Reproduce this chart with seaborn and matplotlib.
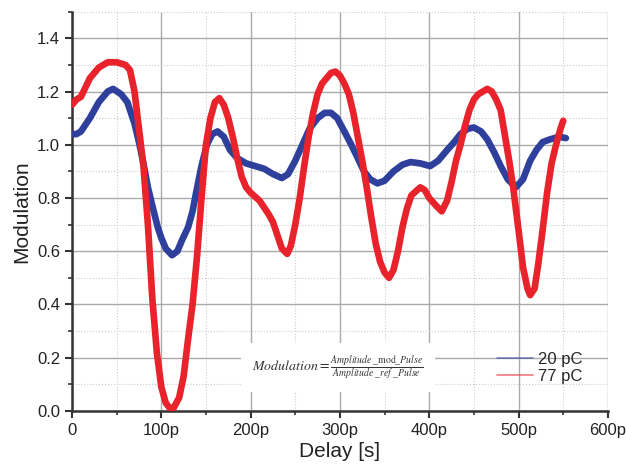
import numpy as np
import pandas as pd
import seaborn as sns
import matplotlib.pyplot as plt
from matplotlib.lines import Line2D
from matplotlib.ticker import MultipleLocator, FuncFormatter

# delay in ps, modulation values
delay_20 = [0, 5, 10, 20, 30, 40, 46, 55, 62, 70, 75, 80, 85, 90, 96, 100, 105, 112, 118, 123,
            130, 135, 139, 145, 151, 157, 163, 170, 177, 185, 195, 205, 215, 225, 235, 242, 250,
            258, 266, 275, 283, 290, 297, 305, 312, 320, 327, 334, 342, 350, 360, 370, 379, 390,
            401, 410, 420, 428, 435, 443, 450, 458, 465, 473, 480, 488, 497, 505, 513, 520, 527,
            535, 545, 553]
mod_20 = [1.04, 1.04, 1.05, 1.10, 1.16, 1.20, 1.21, 1.19, 1.16, 1.08, 1.01, 0.93, 0.84, 0.77,
          0.69, 0.65, 0.61, 0.585, 0.60, 0.64, 0.69, 0.75, 0.82, 0.92, 1.00, 1.04, 1.05, 1.03,
          0.98, 0.95, 0.93, 0.92, 0.91, 0.89, 0.875, 0.89, 0.94, 1.00, 1.06, 1.10, 1.12, 1.12,
          1.10, 1.05, 1.005, 0.95, 0.90, 0.87, 0.855, 0.865, 0.90, 0.925, 0.935, 0.93, 0.92,
          0.94, 0.98, 1.01, 1.04, 1.06, 1.065, 1.05, 1.02, 0.97, 0.92, 0.87, 0.84, 0.87, 0.94,
          0.98, 1.01, 1.02, 1.03, 1.025]

delay_77 = [0, 5, 10, 20, 30, 40, 50, 60, 65, 70, 75, 80, 85, 90, 95, 100, 105, 112, 120, 125,
            130, 135, 140, 145, 150, 155, 160, 165, 170, 175, 180, 185, 190, 195, 200, 210, 220,
            225, 230, 235, 241, 245, 250, 255, 260, 265, 270, 275, 280, 290, 295, 300, 305, 310,
            315, 320, 325, 330, 335, 340, 345, 350, 355, 360, 365, 370, 375, 380, 390, 395, 400,
            408, 414, 420, 425, 430, 435, 440, 445, 450, 455, 465, 470, 475, 480, 487, 490, 494,
            500, 505, 510, 513, 518, 522, 527, 532, 537, 542, 547, 550]
mod_77 = [1.15, 1.17, 1.18, 1.25, 1.29, 1.31, 1.31, 1.30, 1.28, 1.20, 1.06, 0.92, 0.70, 0.42,
          0.22, 0.09, 0.03, 0.0, 0.05, 0.13, 0.27, 0.40, 0.58, 0.80, 1.00, 1.10, 1.16, 1.175,
          1.15, 1.10, 1.03, 0.95, 0.88, 0.84, 0.82, 0.79, 0.74, 0.71, 0.66, 0.61, 0.59, 0.62,
          0.70, 0.80, 0.92, 1.03, 1.12, 1.19, 1.23, 1.27, 1.275, 1.26, 1.23, 1.19, 1.12, 1.03,
          0.94, 0.84, 0.73, 0.63, 0.56, 0.52, 0.50, 0.53, 0.60, 0.69, 0.76, 0.81, 0.84, 0.83,
          0.80, 0.77, 0.75, 0.79, 0.86, 0.94, 1.00, 1.07, 1.13, 1.17, 1.19, 1.21, 1.20, 1.17,
          1.13, 0.99, 0.93, 0.84, 0.68, 0.54, 0.46, 0.435, 0.46, 0.55, 0.68, 0.82, 0.93, 1.00,
          1.06, 1.09]

series = ["20 pC", "77 pC"]
colors = {"20 pC": "#2e3f9c", "77 pC": "#e8232b"}

df = pd.concat([
    pd.DataFrame({"delay": delay_20, "mod": mod_20, "charge": "20 pC"}),
    pd.DataFrame({"delay": delay_77, "mod": mod_77, "charge": "77 pC"}),
])

sns.set_style("white")
plt.rcParams["font.family"] = ["Liberation Sans", "DejaVu Sans"]
plt.rcParams["mathtext.fontset"] = "stix"

fig = plt.figure(figsize=(6.26, 4.68), dpi=100)
ax = fig.add_axes([0.115, 0.122, 0.856, 0.853])

sns.lineplot(data=df, x="delay", y="mod", hue="charge", palette=colors, linewidth=4.8,
             sort=False, legend=False, ax=ax, zorder=3)

ax.set_xlim(0, 600)
ax.set_ylim(0, 1.5)
ax.xaxis.set_major_locator(MultipleLocator(100))
ax.xaxis.set_minor_locator(MultipleLocator(50))
ax.yaxis.set_major_locator(MultipleLocator(0.2))
ax.yaxis.set_minor_locator(MultipleLocator(0.1))
ax.xaxis.set_major_formatter(FuncFormatter(lambda v, p: "0" if v == 0 else f"{int(v)}p"))
ax.yaxis.set_major_formatter(FuncFormatter(lambda v, p: f"{v:.1f}"))

ax.grid(which="major", color="#aaaaaa", linewidth=1.0)
ax.grid(which="minor", color="#cccccc", linewidth=0.8, linestyle=":")
ax.set_axisbelow(True)

for s in ["top", "right"]:
    ax.spines[s].set_visible(False)
for s in ["left", "bottom"]:
    ax.spines[s].set_color("#333333")
    ax.spines[s].set_linewidth(1.8)
ax.tick_params(which="major", direction="out", length=5, width=1.5, color="#333333",
               labelsize=12, labelcolor="#222222", left=True, bottom=True)
ax.tick_params(which="minor", direction="out", length=3, width=1.2, color="#333333",
               left=True, bottom=True)

ax.set_xlabel("Delay [s]", fontsize=15, color="#222222", labelpad=3)
ax.set_ylabel("Modulation", fontsize=15, color="#222222")

ax.text(298, 0.163,
        r"$\mathit{Modulation}=\frac{\mathit{Amplitude}\ \_\mathrm{mod}\_\mathit{Pulse}}"
        r"{\mathit{Amplitude}\ \_\mathit{ref}\ \_\mathit{Pulse}}$",
        fontsize=10, ha="center", va="center", color="#333333", zorder=4,
        bbox=dict(facecolor="white", edgecolor="none", pad=8))

handles = [Line2D([0], [0], color=colors[s], lw=1.2, alpha=0.6) for s in series]
ax.legend(handles, series, loc="center left", bbox_to_anchor=(0.765, 0.108), frameon=False,
          fontsize=12, handlelength=2.15, handletextpad=0.3, labelspacing=0.15)

fig.savefig("out.png", dpi=100)
